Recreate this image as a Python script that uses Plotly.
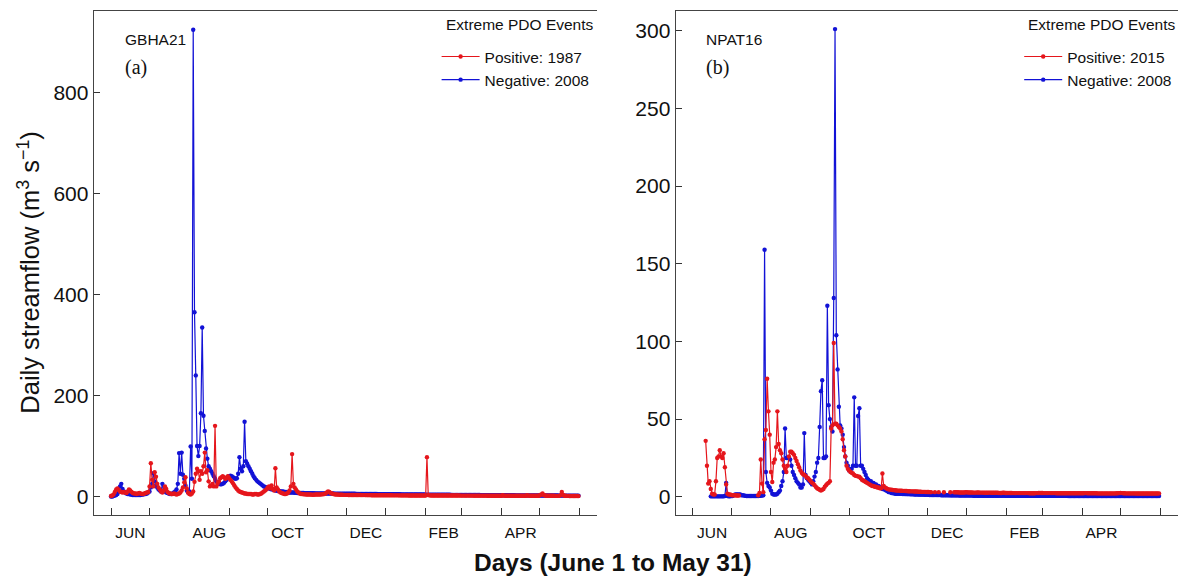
import plotly.graph_objects as go

# Daily streamflow (m3/s), day 0 = June 1 ... day 364 = May 31
# GBHA21, positive PDO year 1987
gbha_pos_1987 = [
    1, 2, 4, 9, 14, 16, 13, 10, 9, 8,
    9, 8, 7, 10, 14, 12, 9, 7, 6, 6,
    5, 6, 7, 6, 5, 5, 6, 7, 8, 9,
    20, 66, 33, 20, 48, 39, 25, 18, 14, 10,
    8, 12, 20, 15, 9, 7, 6, 5, 5, 6,
    5, 4, 5, 6, 8, 12, 18, 28, 38, 16,
    8, 5, 4, 6, 10, 29, 45, 55, 50, 33,
    50, 45, 60, 87, 48, 52, 30, 20, 22, 25,
    20, 140, 20, 25, 30, 36, 38, 40, 38, 35,
    37, 40, 36, 33, 30, 26, 22, 18, 15, 12,
    10, 9, 8, 7, 6, 6, 5, 5, 5, 5,
    4, 4, 5, 5, 4, 4, 5, 6, 8, 10,
    12, 14, 18, 20, 16, 22, 15, 12, 56, 18,
    14, 10, 8, 7, 6, 5, 5, 6, 8, 12,
    20, 84, 25, 18, 14, 10, 8, 6, 5, 5,
    4.5, 4.2, 4, 4, 3.8, 3.8, 3.6, 3.5, 3.5, 4,
    4, 4, 4, 4, 4.2, 4.5, 5, 6, 8, 10,
    9, 7, 6, 5, 4.5, 4, 3.8, 3.6, 3.5, 3.4,
    3.3, 3.2, 3.2, 3.1, 3.1, 3, 3, 3, 2.9, 2.9,
    2.9, 2.8, 2.8, 2.8, 2.8, 2.7, 2.7, 2.7, 2.7, 2.6,
    2.6, 2.6, 2.6, 2.5, 2.5, 2.5, 2.5, 2.5, 2.4, 2.4,
    2.4, 2.4, 2.4, 2.3, 2.3, 2.3, 2.3, 2.3, 2.3, 2.2,
    2.2, 2.2, 2.2, 2.2, 2.2, 2.1, 2.1, 2.1, 2.1, 2.1,
    2.1, 2.1, 2, 2, 2, 2, 2, 2, 2, 2,
    2, 2, 2, 2, 2, 2, 78, 3, 2.2, 2,
    2, 2, 2, 2, 2, 1.9, 1.9, 1.9, 1.9, 1.9,
    1.9, 1.9, 1.9, 1.8, 1.8, 1.8, 1.8, 1.8, 1.8, 1.8,
    1.8, 1.8, 1.7, 1.7, 1.7, 1.7, 1.7, 1.7, 1.7, 1.7,
    1.7, 1.7, 1.6, 1.6, 1.6, 1.6, 1.6, 1.6, 1.6, 1.6,
    1.6, 1.6, 1.6, 1.5, 1.5, 1.5, 1.5, 1.5, 1.5, 1.5,
    1.5, 1.5, 1.5, 1.5, 1.5, 2.5, 1.6, 1.5, 1.5, 1.5,
    1.5, 1.4, 1.4, 1.4, 1.4, 1.4, 1.4, 1.4, 1.4, 1.4,
    1.4, 1.4, 1.4, 1.4, 2.5, 1.6, 1.4, 1.4, 1.3, 1.3,
    1.3, 1.3, 1.3, 1.5, 2.5, 4, 6, 3, 1.8, 1.5,
    1.4, 1.3, 1.3, 1.3, 1.3, 1.3, 1.2, 1.2, 1.2, 1.2,
    2.5, 9, 3, 1.5, 1.3, 1.2, 1.2, 1.1, 1.1, 1.1,
    1, 1, 1, 1, 0.8,
]

# GBHA21, negative PDO year 2008
gbha_neg_2008 = [
    0, 0, 1, 2, 3, 5, 10, 20, 25, 15,
    10, 8, 6, 5, 5, 4, 4, 3, 3, 3,
    3, 3, 3, 3, 4, 4, 5, 5, 6, 8,
    10, 18, 25, 46, 30, 22, 18, 14, 12, 10,
    25, 12, 10, 8, 7, 6, 5, 5, 6, 8,
    10, 14, 25, 86, 45, 87, 43, 35, 22, 12,
    8, 10, 99, 35, 925, 365, 240, 100, 80, 100,
    165, 335, 160, 130, 95, 75, 60, 55, 50, 45,
    40, 35, 30, 27, 25, 24, 24, 25, 27, 30,
    33, 36, 40, 41, 40, 38, 36, 35, 36, 45,
    78, 55, 50, 60, 148, 70, 65, 60, 55, 50,
    45, 40, 36, 33, 30, 28, 26, 24, 22, 20,
    19, 18, 17, 16, 15, 14, 14, 13, 12, 12,
    11, 11, 10, 10, 10, 9, 9, 9, 8, 8,
    8, 8, 8, 7.5, 7.5, 7, 7, 7, 7, 6.8,
    6.8, 6.6, 6.6, 6.5, 6.5, 6.4, 6.4, 6.3, 6.3, 6.2,
    6.2, 6.2, 6.1, 6.1, 6, 6, 6, 6, 5.9, 5.9,
    5.9, 5.8, 5.8, 5.8, 5.7, 5.7, 5.7, 5.6, 5.6, 5.6,
    5.5, 5.5, 5.5, 5.5, 5.4, 5.4, 5.4, 5.3, 5.3, 5.3,
    5.3, 5.2, 5.2, 5.2, 5.1, 5.1, 5.1, 5, 5, 5,
    5, 5, 4.9, 4.9, 4.9, 4.8, 4.8, 4.8, 4.7, 4.7,
    4.7, 4.7, 4.6, 4.6, 4.6, 4.5, 4.5, 4.5, 4.5, 4.4,
    4.4, 4.4, 4.3, 4.3, 4.3, 4.3, 4.2, 4.2, 4.2, 4.1,
    4.1, 4.1, 4.1, 4, 4, 4, 4, 3.9, 3.9, 3.9,
    3.9, 3.8, 3.8, 3.8, 3.8, 3.7, 3.7, 3.7, 3.7, 3.6,
    3.6, 3.6, 3.6, 3.5, 3.5, 3.5, 3.5, 3.4, 3.4, 3.4,
    3.4, 3.3, 3.3, 3.3, 3.3, 3.2, 3.2, 3.2, 3.2, 3.1,
    3.1, 3.1, 3.1, 3, 3, 3, 3, 3, 2.9, 2.9,
    2.9, 2.9, 2.9, 2.8, 2.8, 2.8, 2.8, 2.8, 2.7, 2.7,
    2.7, 2.7, 2.7, 2.6, 2.6, 2.6, 2.6, 2.6, 2.5, 2.5,
    2.5, 2.5, 2.5, 2.5, 2.4, 2.4, 2.4, 2.4, 2.4, 2.3,
    2.3, 2.3, 2.3, 2.3, 2.3, 2.2, 2.2, 2.2, 2.2, 2.2,
    2.2, 2.1, 2.1, 2.1, 2.1, 2.1, 2.1, 2, 2, 2,
    2, 2, 2, 2, 2, 1.9, 1.9, 1.9, 1.9, 1.9,
    1.9, 1.9, 1.8, 1.8, 1.8, 1.8, 1.8, 1.8, 1.8, 1.7,
    1.7, 1.7, 1.7, 1.7, 1.7, 1.7, 1.6, 1.6, 1.6, 1.6,
    1.6, 1.6, 1.6, 1.5, 1.5,
]

# NPAT16, positive PDO year 2015 (None = no record)
npat_pos_2015 = [
    None, None, None, None, None, None, None, None, None, None,
    36, 20, 8.5, 10, 5, 2, 1.5, 1.5, 10, 25,
    26, 30, 26, 25, 28, 19, 8, 2, 1.5, 1.5,
    1.2, 1, 1, 1, 0.8, 0.8, 0.8, None, None, None,
    None, None, None, None, None, None, None, None, None, None,
    None, 1, 2.5, 24, 8.5, 3, 37, 43, 76, 55,
    40, 16, 9.5, 22, 24, 32, 55, 34, 30, 28,
    24, 20, 18, 16, 20, 26, 29, 29, 28, 27,
    25, 23, 21, 19, 17, 15.5, 14.5, 14, 13.5, 12.5,
    12, 11, 10, 9, 8.5, 7.5, 6.5, 5.5, 5, 4.5,
    4, 4.5, 5, 6.5, 7.5, 8.5, 9, 10, 44, 46,
    99, 47, 47, 46, 45, 44, 42, 37, 30, 26,
    20, 18, 17, 16, 15.5, 15, 14, 13.5, 13.5, 13,
    13, 12, 11, 10.5, 10, 9.5, 9, 8.5, 8, 7.5,
    7, 7, 6.5, 6.5, 6, 6, 5.5, 5.5, 15, 7,
    6, 5.5, 5, 4.8, 4.6, 4.5, 4.4, 4.3, 4.2, 4.1,
    4, 4, 3.9, 3.9, 3.8, 3.8, 3.7, 3.7, 3.6, 3.6,
    3.5, 3.5, 3.5, 3.4, 3.4, 3.4, 3.3, 3.3, 3.3, 3.2,
    3.2, 3.2, 3.1, 3.1, 3.1, 3.0, 3.0, None, None, 3.0,
    None, None, 3.0, None, None, None, 2.9, None, None, None,
    None, 2.9, None, None, 2.9, 2.9, 2.9, 2.9, 2.8, 2.8,
    2.8, 2.8, 2.8, 2.9, 2.9, 2.8, 2.8, 2.8, 2.8, 2.7,
    2.7, 2.7, 2.8, 2.8, 2.7, 2.7, 2.7, 2.7, 2.6, 2.6,
    2.6, 2.7, 2.7, 2.6, 2.6, 2.6, 2.6, 2.6, 2.6, 2.5,
    2.5, 2.5, 2.6, 2.6, 2.5, 2.5, 2.5, 2.5, 2.5, 2.5,
    2.4, 2.4, 2.4, 2.4, 2.4, 2.4, 2.4, 2.4, 2.4, 2.4,
    2.4, 2.4, 2.4, 2.3, 2.3, 2.3, 2.3, 2.3, 2.4, 2.4,
    2.5, 2.5, 2.5, 2.5, 2.4, 2.4, 2.4, 2.4, 2.4, 2.4,
    2.4, 2.4, 2.4, 2.4, 2.3, 2.3, 2.3, 2.3, 2.3, 2.3,
    2.3, 2.3, 2.3, 2.3, 2.3, 2.3, 2.3, 2.3, 2.3, 2.3,
    2.3, 2.3, 2.3, 2.3, 2.3, 2.3, 2.4, 2.4, 2.3, 2.3,
    2.3, 2.3, 2.3, 2.3, 2.3, 2.3, 2.2, 2.2, 2.2, 2.2,
    2.2, 2.2, 2.2, 2.2, 2.2, 2.2, 2.2, 2.2, 2.2, 2.2,
    2.2, 2.3, 2.3, 2.4, 2.5, 2.4, 2.3, 2.3, 2.2, 2.2,
    2.2, 2.2, 2.2, 2.2, 2.2, 2.2, 2.1, 2.1, 2.1, 2.1,
    2.1, 2.1, 2.1, 2.1, 2.1, 2.1, 2.1, 2.1, 2.1, 2.1,
    2.1, 2.1, 2.1, 2.1, 2.2,
]

# NPAT16, negative PDO year 2008 (None = no record)
npat_neg_2008 = [
    None, None, None, None, None, None, None, None, None, None,
    None, None, None, None, 0.3, 0.3, 0.3, 0.3, 0.3, 0.3,
    0.3, 0.3, 0.3, 0.3, 0.3, 0.5, 9, 0.5, 0.3, 0.3,
    0.5, 0.5, 1, 1.5, 1.5, 1.5, 1.5, 1.5, 1, 1,
    0.8, 0.6, 0.5, 0.5, 0.5, 0.5, 0.5, 0.5, 0.5, 0.5,
    0.5, 0.5, 0.6, 0.7, 0.8, 1, 159, 16, 9, 7,
    6, 4, 2, 1.5, 1.5, 1.5, 2, 3, 4, 7,
    10, 16, 44, 25, 25, 25, 24, 20, 16, 14,
    12, 10, 9, 8, 6, 6, 8, 41, 14, 12,
    11, 10, 9, 8, 10, 13, 16, 22, 25, 45,
    68, 75, 25, 25, 26, 123, 59, 50, 45, 42,
    128, 301, 104, 82, 58, 46, 44, 40, 32, 26,
    22, 20, 17, 18, 18, 20, 64, 20, 20, 52,
    57, 20, 20, 18, 16, 14, 12, 11, 10, 10,
    9, 9, 8, 8, 7, 7, 6, 6, 5, 5,
    4.5, 4, 3.5, 3, 3, 2.5, 2.5, 2.2, 2, 2,
    2, 2, 1.9, 1.9, 1.8, 1.8, 1.8, 1.7, 1.7, 1.7,
    1.6, 1.6, 1.6, 1.5, 1.5, 1.5, 1.5, 1.4, 1.4, 1.4,
    1.4, 1.3, 1.3, 1.3, 1.3, 1.2, 1.2, 1.2, 1.2, 1.1,
    1.1, 1.1, 1.1, 1.1, 1, 1, 1, 1, 1, 1,
    1, 0.9, 0.9, 0.9, 0.9, 0.9, 0.9, 0.9, 0.8, 0.8,
    0.8, 0.8, 0.8, 0.8, 0.8, 0.8, 0.8, 0.8, 0.8, 0.7,
    0.7, 0.7, 0.7, 0.7, 0.7, 0.7, 0.7, 0.7, 0.7, 0.7,
    0.7, 0.7, 0.7, 0.7, 0.7, 0.7, 0.7, 0.7, 0.7, 0.7,
    0.7, 0.7, 0.7, 0.7, 0.7, 0.6, 0.6, 0.6, 0.6, 0.6,
    0.6, 0.6, 0.6, 0.6, 0.6, 0.6, 0.6, 0.6, 0.6, 0.6,
    0.6, 0.6, 0.6, 0.6, 0.6, 0.6, 0.6, 0.6, 0.6, 0.6,
    0.6, 0.6, 0.6, 0.6, 0.6, 0.6, 0.6, 0.6, 0.6, 0.6,
    0.6, 0.6, 0.6, 0.6, 0.6, 0.6, 0.6, 0.6, 0.6, 0.6,
    0.6, 0.6, 0.6, 0.5, 0.5, 0.5, 0.5, 0.5, 0.5, 0.5,
    0.5, 0.5, 0.5, 0.5, 0.5, 0.5, 0.5, 0.5, 0.5, 0.5,
    0.5, 0.5, 0.5, 0.5, 0.5, 0.5, 0.5, 0.5, 0.5, 0.5,
    0.5, 0.5, 0.5, 0.5, 0.5, 0.5, 0.5, 0.5, 0.5, 0.5,
    0.5, 0.5, 0.5, 0.5, 0.5, 0.5, 0.5, 0.5, 0.5, 0.5,
    0.5, 0.5, 0.5, 0.5, 0.5, 0.5, 0.5, 0.5, 0.5, 0.5,
    0.5, 0.5, 0.5, 0.5, 0.5, 0.5, 0.5, 0.5, 0.5, 0.5,
    0.5, 0.5, 0.5, 0.5, 0.5,
]

# Month boundaries (day of water year) and labelled month centres
month_starts = [0, 30, 61, 92, 122, 153, 183, 214, 245, 273, 304, 334, 365]
month_label_days = [15, 76.5, 137.5, 198.5, 259, 319]
month_labels = ["JUN", "AUG", "OCT", "DEC", "FEB", "APR"]

left_yticks = [0, 200, 400, 600, 800]
right_yticks = [0, 50, 100, 150, 200, 250, 300]

RED = "#e5161c"
BLUE = "#1212d6"
SANS = "Liberation Sans, Arial, sans-serif"
SERIF = "Liberation Serif, Times New Roman, serif"
W, H = 1179, 578


def series(values, color, name, xa, ya, legend):
    days = list(range(len(values)))
    return go.Scatter(
        x=days, y=values, mode="lines+markers", name=name,
        line=dict(color=color, width=1.2),
        marker=dict(color=color, size=4.4),
        xaxis=xa, yaxis=ya, legend=legend,
        legendrank=1 if color == RED else 2,
        connectgaps=False,
    )


fig = go.Figure()
fig.add_trace(series(gbha_neg_2008, BLUE, "Negative: 2008", "x", "y", "legend"))
fig.add_trace(series(gbha_pos_1987, RED, "Positive: 1987", "x", "y", "legend"))
fig.add_trace(series(npat_neg_2008, BLUE, "Negative: 2008", "x2", "y2", "legend2"))
fig.add_trace(series(npat_pos_2015, RED, "Positive: 2015", "x2", "y2", "legend2"))

ydom = [1 - 515.3 / H, 1 - 11.1 / H]
xaxis_common = dict(
    range=[-13.4, 378.4],
    tickmode="array", tickvals=month_label_days, ticktext=month_labels,
    ticks="", ticklabelstandoff=3,
    tickfont=dict(family=SANS, size=15.5, color="#111"),
    showline=True, linecolor="#444", linewidth=1.3, mirror=True,
    showgrid=False, zeroline=False,
    minor=dict(tickmode="array", tickvals=month_starts, ticks="inside",
               ticklen=7, tickcolor="#333", tickwidth=1.3, showgrid=False),
)
yaxis_common = dict(
    domain=ydom, tickmode="array", ticks="inside", ticklen=6,
    tickcolor="#333", tickwidth=1.3,
    tickfont=dict(family=SANS, size=21, color="#111"),
    showline=True, linecolor="#444", linewidth=1.3, mirror=False,
    showgrid=False, zeroline=False,
)

fig.update_layout(
    width=W, height=H,
    margin=dict(l=0, r=0, t=0, b=0),
    paper_bgcolor="white", plot_bgcolor="white",
    xaxis=dict(domain=[93.8 / W, 597 / W], anchor="y", **xaxis_common),
    xaxis2=dict(domain=[675.7 / W, 1177.5 / W], anchor="y2", **xaxis_common),
    yaxis=dict(range=[-37.3, 962], tickvals=left_yticks, anchor="x", **yaxis_common),
    yaxis2=dict(range=[-11.9, 312.6], tickvals=right_yticks, anchor="x2", **yaxis_common),
    legend=dict(x=436.6 / W, y=1 - 39.9 / H, xanchor="left", yanchor="top",
                itemwidth=38, bgcolor="rgba(0,0,0,0)",
                font=dict(family=SANS, size=15.5, color="#111")),
    legend2=dict(x=1019.2 / W, y=1 - 39.9 / H, xanchor="left", yanchor="top",
                 itemwidth=38, bgcolor="rgba(0,0,0,0)",
                 font=dict(family=SANS, size=15.5, color="#111")),
    showlegend=True,
)

notes = [
    dict(text="Extreme PDO Events", x=444 / W, y=1 - 25 / H, size=15.5, fam=SANS),
    dict(text="Extreme PDO Events", x=1025.8 / W, y=1 - 25 / H, size=15.5, fam=SANS),
    dict(text="GBHA21", x=122.5 / W, y=1 - 39.8 / H, size=15.5, fam=SANS),
    dict(text="(a)", x=123 / W, y=1 - 67 / H, size=20, fam=SERIF),
    dict(text="NPAT16", x=704.4 / W, y=1 - 39.8 / H, size=15.5, fam=SANS),
    dict(text="(b)", x=703.6 / W, y=1 - 67 / H, size=20, fam=SERIF),
]
for n in notes:
    fig.add_annotation(text=n["text"], x=n["x"], y=n["y"], xref="paper", yref="paper",
                       xanchor="left", yanchor="middle", showarrow=False,
                       font=dict(family=n["fam"], size=n["size"], color="#111"))

fig.add_annotation(text="Daily streamflow (m<sup>3</sup> s<sup>\u22121</sup>)",
                   x=28.7 / W, y=1 - 272 / H, xref="paper", yref="paper",
                   xanchor="center", yanchor="middle", textangle=-90, showarrow=False,
                   font=dict(family=SANS, size=25.5, color="#111"))
fig.add_annotation(text="<b>Days (June 1 to May 31)</b>",
                   x=613 / W, y=1 - 562 / H, xref="paper", yref="paper",
                   xanchor="center", yanchor="middle", showarrow=False,
                   font=dict(family=SANS, size=24.5, color="#111"))

fig.write_html("out.html")
